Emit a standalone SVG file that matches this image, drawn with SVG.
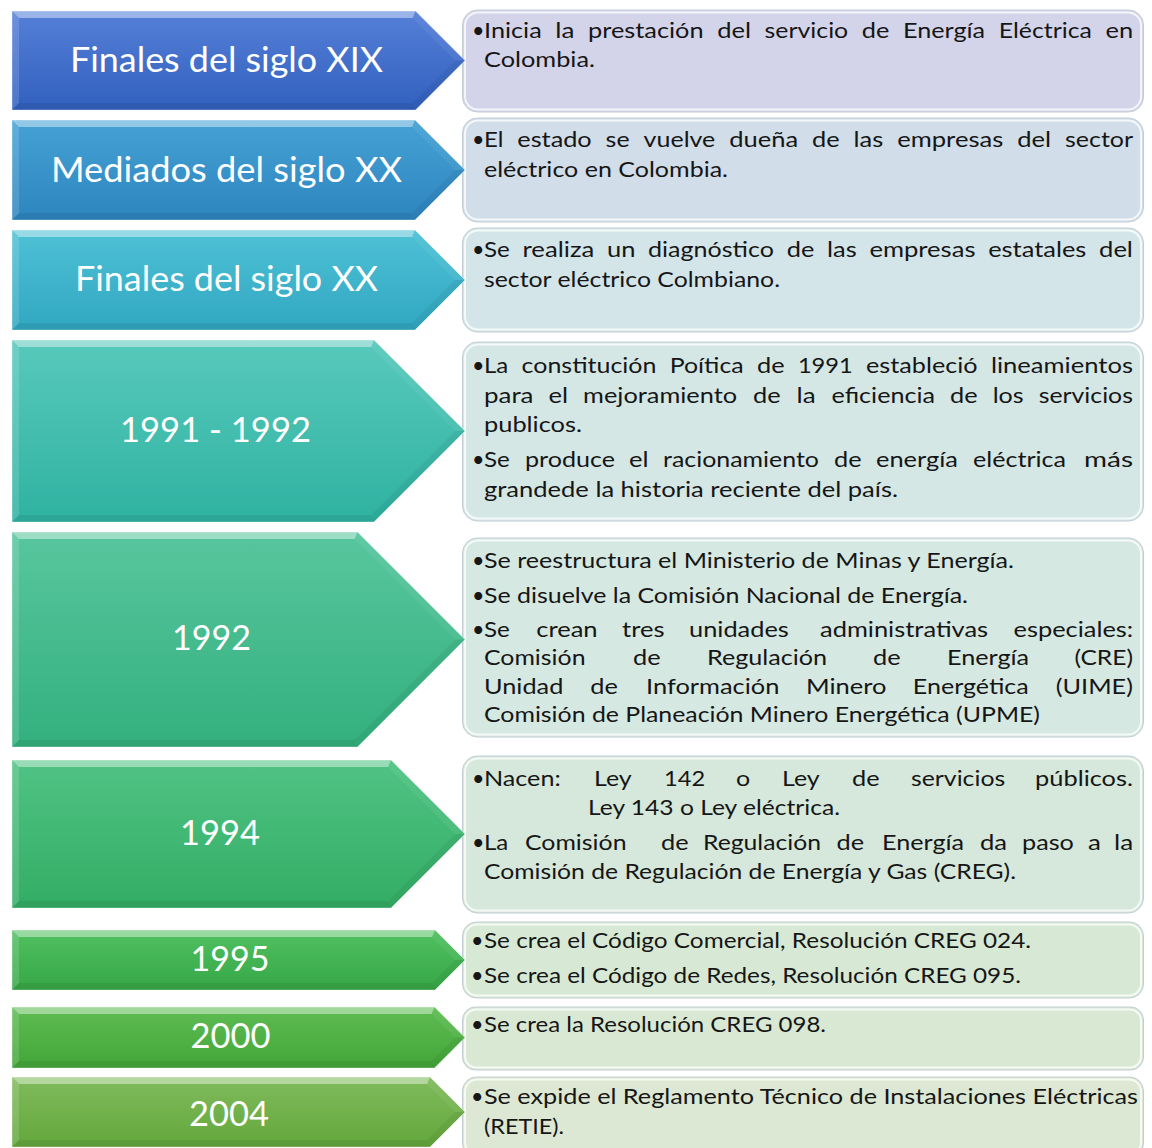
<svg xmlns="http://www.w3.org/2000/svg" width="1152" height="1148" viewBox="0 0 1152 1148">
<style>
.t{font-family:Lato,"Open Sans","Liberation Sans",sans-serif;font-size:21.5px;fill:#161616}
.lbl{font-family:Lato,"Open Sans","Liberation Sans",sans-serif;font-size:34px;fill:#ffffff;text-anchor:middle}
.bt{fill:#ffffff;fill-opacity:.42}
.bl{fill:#ffffff;fill-opacity:.14}
.bb{fill:#000000;fill-opacity:.07}
.bu{fill:#ffffff;fill-opacity:.06}
.bd{fill:#000000;fill-opacity:.05}
.ao{fill:none;stroke:#ffffff;stroke-opacity:.35;stroke-width:1}
.bo{stroke:#c3ccd3;stroke-width:1}
.bi{fill:none;stroke:#ffffff;stroke-opacity:.75;stroke-width:2}
</style>
<defs>
<linearGradient id="g1" x1="0" y1="0" x2="0" y2="1"><stop offset="0" stop-color="#5580d8"/><stop offset="1" stop-color="#3260be"/></linearGradient>
<linearGradient id="g2" x1="0" y1="0" x2="0" y2="1"><stop offset="0" stop-color="#45a2d5"/><stop offset="1" stop-color="#2e85bf"/></linearGradient>
<linearGradient id="g3" x1="0" y1="0" x2="0" y2="1"><stop offset="0" stop-color="#4ec1d6"/><stop offset="1" stop-color="#31a7c1"/></linearGradient>
<linearGradient id="g4" x1="0" y1="0" x2="0" y2="1"><stop offset="0" stop-color="#58c9bc"/><stop offset="1" stop-color="#2fb2a1"/></linearGradient>
<linearGradient id="g5" x1="0" y1="0" x2="0" y2="1"><stop offset="0" stop-color="#58c69f"/><stop offset="1" stop-color="#33b07d"/></linearGradient>
<linearGradient id="g6" x1="0" y1="0" x2="0" y2="1"><stop offset="0" stop-color="#50c384"/><stop offset="1" stop-color="#33ad65"/></linearGradient>
<linearGradient id="g7" x1="0" y1="0" x2="0" y2="1"><stop offset="0" stop-color="#50c061"/><stop offset="1" stop-color="#36a746"/></linearGradient>
<linearGradient id="g8" x1="0" y1="0" x2="0" y2="1"><stop offset="0" stop-color="#5ebc52"/><stop offset="1" stop-color="#43a639"/></linearGradient>
<linearGradient id="g9" x1="0" y1="0" x2="0" y2="1"><stop offset="0" stop-color="#80bb5c"/><stop offset="1" stop-color="#63a73b"/></linearGradient>
</defs>
<rect width="1152" height="1148" fill="#ffffff"/>

<!-- Boxes -->
<g id="box-1">
<rect x="462.5" y="10" width="681" height="102" rx="15" fill="#d3d4e9" class="bo"/>
<rect x="465" y="12.5" width="676" height="97" rx="13" class="bi"/>
<text class="t" y="38"><tspan x="472">•</tspan><tspan x="484" textLength="57.7" lengthAdjust="spacingAndGlyphs">Inicia</tspan> <tspan x="555.3" textLength="19.1" lengthAdjust="spacingAndGlyphs">la</tspan> <tspan x="588" textLength="115.6" lengthAdjust="spacingAndGlyphs">prestación</tspan> <tspan x="717.2" textLength="33.8" lengthAdjust="spacingAndGlyphs">del</tspan> <tspan x="764.6" textLength="83.6" lengthAdjust="spacingAndGlyphs">servicio</tspan> <tspan x="861.8" textLength="27.6" lengthAdjust="spacingAndGlyphs">de</tspan> <tspan x="903" textLength="82.1" lengthAdjust="spacingAndGlyphs">Energía</tspan> <tspan x="998.7" textLength="93.2" lengthAdjust="spacingAndGlyphs">Eléctrica</tspan> <tspan x="1105.5" textLength="27.6" lengthAdjust="spacingAndGlyphs">en</tspan></text>
<text class="t" x="484" y="67" textLength="111" lengthAdjust="spacingAndGlyphs">Colombia.</text>
</g>

<g id="box-2">
<rect x="462.5" y="118" width="681" height="104" rx="15" fill="#d1dde8" class="bo"/>
<rect x="465" y="120.5" width="676" height="99" rx="13" class="bi"/>
<text class="t" y="147"><tspan x="472">•</tspan><tspan x="484" textLength="19.4" lengthAdjust="spacingAndGlyphs">El</tspan> <tspan x="517.3" textLength="74.4" lengthAdjust="spacingAndGlyphs">estado</tspan> <tspan x="605.6" textLength="24" lengthAdjust="spacingAndGlyphs">se</tspan> <tspan x="643.6" textLength="71.7" lengthAdjust="spacingAndGlyphs">vuelve</tspan> <tspan x="729.2" textLength="68.9" lengthAdjust="spacingAndGlyphs">dueña</tspan> <tspan x="812" textLength="27.6" lengthAdjust="spacingAndGlyphs">de</tspan> <tspan x="853.6" textLength="29.7" lengthAdjust="spacingAndGlyphs">las</tspan> <tspan x="897.2" textLength="106.1" lengthAdjust="spacingAndGlyphs">empresas</tspan> <tspan x="1017.2" textLength="33.8" lengthAdjust="spacingAndGlyphs">del</tspan> <tspan x="1065" textLength="68.1" lengthAdjust="spacingAndGlyphs">sector</tspan></text>
<text class="t" x="484" y="177" textLength="244" lengthAdjust="spacingAndGlyphs">eléctrico en Colombia.</text>
</g>

<g id="box-3">
<rect x="462.5" y="228" width="681" height="104" rx="15" fill="#d3e5e9" class="bo"/>
<rect x="465" y="230.5" width="676" height="99" rx="13" class="bi"/>
<text class="t" y="257"><tspan x="472">•</tspan><tspan x="484" textLength="25.8" lengthAdjust="spacingAndGlyphs">Se</tspan> <tspan x="522.5" textLength="71.8" lengthAdjust="spacingAndGlyphs">realiza</tspan> <tspan x="607" textLength="28.4" lengthAdjust="spacingAndGlyphs">un</tspan> <tspan x="648.1" textLength="125.8" lengthAdjust="spacingAndGlyphs">diagnóstico</tspan> <tspan x="786.7" textLength="27.6" lengthAdjust="spacingAndGlyphs">de</tspan> <tspan x="827" textLength="29.7" lengthAdjust="spacingAndGlyphs">las</tspan> <tspan x="869.4" textLength="106.1" lengthAdjust="spacingAndGlyphs">empresas</tspan> <tspan x="988.2" textLength="98.1" lengthAdjust="spacingAndGlyphs">estatales</tspan> <tspan x="1099.1" textLength="33.8" lengthAdjust="spacingAndGlyphs">del</tspan></text>
<text class="t" x="484" y="287" textLength="296" lengthAdjust="spacingAndGlyphs">sector eléctrico Colmbiano.</text>
</g>

<g id="box-4">
<rect x="462.5" y="342" width="681" height="179" rx="15" fill="#d4e7e5" class="bo"/>
<rect x="465" y="344.5" width="676" height="174" rx="13" class="bi"/>
<text class="t" y="373"><tspan x="472">•</tspan><tspan x="484" textLength="24.3" lengthAdjust="spacingAndGlyphs">La</tspan> <tspan x="521.6" textLength="134.8" lengthAdjust="spacingAndGlyphs">constitución</tspan> <tspan x="669.7" textLength="74" lengthAdjust="spacingAndGlyphs">Poítica</tspan> <tspan x="757" textLength="27.6" lengthAdjust="spacingAndGlyphs">de</tspan> <tspan x="797.9" textLength="54.8" lengthAdjust="spacingAndGlyphs">1991</tspan> <tspan x="866" textLength="111.6" lengthAdjust="spacingAndGlyphs">estableció</tspan> <tspan x="990.9" textLength="142.1" lengthAdjust="spacingAndGlyphs">lineamientos</tspan></text>
<text class="t" y="403"><tspan x="484" textLength="49.5" lengthAdjust="spacingAndGlyphs">para</tspan> <tspan x="548.5" textLength="19.6" lengthAdjust="spacingAndGlyphs">el</tspan> <tspan x="583.1" textLength="154" lengthAdjust="spacingAndGlyphs">mejoramiento</tspan> <tspan x="753" textLength="27.6" lengthAdjust="spacingAndGlyphs">de</tspan> <tspan x="796.5" textLength="19.1" lengthAdjust="spacingAndGlyphs">la</tspan> <tspan x="831.5" textLength="103.6" lengthAdjust="spacingAndGlyphs">eficiencia</tspan> <tspan x="950.1" textLength="27.6" lengthAdjust="spacingAndGlyphs">de</tspan> <tspan x="992.7" textLength="31" lengthAdjust="spacingAndGlyphs">los</tspan> <tspan x="1038.7" textLength="94.2" lengthAdjust="spacingAndGlyphs">servicios</tspan></text>
<text class="t" x="484" y="432" textLength="98" lengthAdjust="spacingAndGlyphs">publicos.</text>
<text class="t" y="467"><tspan x="472">•</tspan><tspan x="484" textLength="25.8" lengthAdjust="spacingAndGlyphs">Se</tspan> <tspan x="525" textLength="90" lengthAdjust="spacingAndGlyphs">produce</tspan> <tspan x="629" textLength="19.6" lengthAdjust="spacingAndGlyphs">el</tspan> <tspan x="663" textLength="156" lengthAdjust="spacingAndGlyphs">racionamiento</tspan> <tspan x="834" textLength="27.6" lengthAdjust="spacingAndGlyphs">de</tspan> <tspan x="876" textLength="82" lengthAdjust="spacingAndGlyphs">energía</tspan> <tspan x="973" textLength="93" lengthAdjust="spacingAndGlyphs">eléctrica</tspan> <tspan x="1084" textLength="49" lengthAdjust="spacingAndGlyphs">más</tspan></text>
<text class="t" x="484" y="497" textLength="414" lengthAdjust="spacingAndGlyphs">grandede la historia reciente del país.</text>
</g>

<g id="box-5">
<rect x="462.5" y="538" width="681" height="199" rx="15" fill="#d5e8e1" class="bo"/>
<rect x="465" y="540.5" width="676" height="194" rx="13" class="bi"/>
<text class="t" y="568"><tspan x="472">•</tspan><tspan x="484" textLength="530" lengthAdjust="spacingAndGlyphs">Se reestructura el Ministerio de Minas y Energía.</tspan></text>
<text class="t" y="603"><tspan x="472">•</tspan><tspan x="484" textLength="484" lengthAdjust="spacingAndGlyphs">Se disuelve la Comisión Nacional de Energía.</tspan></text>
<text class="t" y="637"><tspan x="472">•</tspan><tspan x="484" textLength="25.8" lengthAdjust="spacingAndGlyphs">Se</tspan> <tspan x="536.2" textLength="61.4" lengthAdjust="spacingAndGlyphs">crean</tspan> <tspan x="622" textLength="42.5" lengthAdjust="spacingAndGlyphs">tres</tspan> <tspan x="689" textLength="99.8" lengthAdjust="spacingAndGlyphs">unidades</tspan> <tspan x="820" textLength="168.1" lengthAdjust="spacingAndGlyphs">administrativas</tspan> <tspan x="1013.6" textLength="119.6" lengthAdjust="spacingAndGlyphs">especiales:</tspan></text>
<text class="t" y="665"><tspan x="484" textLength="101.5" lengthAdjust="spacingAndGlyphs">Comisión</tspan> <tspan x="633" textLength="27.6" lengthAdjust="spacingAndGlyphs">de</tspan> <tspan x="707" textLength="120.1" lengthAdjust="spacingAndGlyphs">Regulación</tspan> <tspan x="873" textLength="27.6" lengthAdjust="spacingAndGlyphs">de</tspan> <tspan x="947" textLength="82.1" lengthAdjust="spacingAndGlyphs">Energía</tspan> <tspan x="1074.4" textLength="58.6" lengthAdjust="spacingAndGlyphs">(CRE)</tspan></text>
<text class="t" y="694"><tspan x="484" textLength="79.3" lengthAdjust="spacingAndGlyphs">Unidad</tspan> <tspan x="590.3" textLength="27.6" lengthAdjust="spacingAndGlyphs">de</tspan> <tspan x="646" textLength="133.4" lengthAdjust="spacingAndGlyphs">Información</tspan> <tspan x="806" textLength="80.5" lengthAdjust="spacingAndGlyphs">Minero</tspan> <tspan x="912.8" textLength="116" lengthAdjust="spacingAndGlyphs">Energética</tspan> <tspan x="1055.8" textLength="77.1" lengthAdjust="spacingAndGlyphs">(UIME)</tspan></text>
<text class="t" x="484" y="722" textLength="556" lengthAdjust="spacingAndGlyphs">Comisión de Planeación Minero Energética (UPME)</text>
</g>

<g id="box-6">
<rect x="462.5" y="756" width="681" height="157" rx="15" fill="#d5e8db" class="bo"/>
<rect x="465" y="758.5" width="676" height="152" rx="13" class="bi"/>
<text class="t" y="786"><tspan x="472">•</tspan><tspan x="484" textLength="76.7" lengthAdjust="spacingAndGlyphs">Nacen:</tspan> <tspan x="594" textLength="37" lengthAdjust="spacingAndGlyphs">Ley</tspan> <tspan x="664" textLength="41.1" lengthAdjust="spacingAndGlyphs">142</tspan> <tspan x="736" textLength="14.2" lengthAdjust="spacingAndGlyphs">o</tspan> <tspan x="782" textLength="37" lengthAdjust="spacingAndGlyphs">Ley</tspan> <tspan x="852" textLength="27.6" lengthAdjust="spacingAndGlyphs">de</tspan> <tspan x="911" textLength="94.2" lengthAdjust="spacingAndGlyphs">servicios</tspan> <tspan x="1035.1" textLength="97.9" lengthAdjust="spacingAndGlyphs">públicos.</tspan></text>
<text class="t" x="588" y="815" textLength="252" lengthAdjust="spacingAndGlyphs">Ley 143 o Ley eléctrica.</text>
<text class="t" y="850"><tspan x="472">•</tspan><tspan x="484" textLength="24.3" lengthAdjust="spacingAndGlyphs">La</tspan> <tspan x="525" textLength="101.5" lengthAdjust="spacingAndGlyphs">Comisión</tspan>  <tspan x="661" textLength="27.6" lengthAdjust="spacingAndGlyphs">de</tspan> <tspan x="703" textLength="118" lengthAdjust="spacingAndGlyphs">Regulación</tspan> <tspan x="836.5" textLength="27.6" lengthAdjust="spacingAndGlyphs">de</tspan> <tspan x="882" textLength="82.1" lengthAdjust="spacingAndGlyphs">Energía</tspan> <tspan x="980" textLength="27.1" lengthAdjust="spacingAndGlyphs">da</tspan> <tspan x="1022" textLength="51.9" lengthAdjust="spacingAndGlyphs">paso</tspan> <tspan x="1088" textLength="12.9" lengthAdjust="spacingAndGlyphs">a</tspan> <tspan x="1114" textLength="19.1" lengthAdjust="spacingAndGlyphs">la</tspan></text>
<text class="t" x="484" y="879" textLength="532" lengthAdjust="spacingAndGlyphs">Comisión de Regulación de Energía y Gas (CREG).</text>
</g>

<g id="box-7">
<rect x="462.5" y="922" width="681" height="76" rx="14" fill="#d7e9d5" class="bo"/>
<rect x="465" y="924.5" width="676" height="71" rx="12" class="bi"/>
<text class="t" y="948"><tspan x="471">•</tspan><tspan x="484" textLength="547" lengthAdjust="spacingAndGlyphs">Se crea el Código Comercial, Resolución CREG 024.</tspan></text>
<text class="t" y="983"><tspan x="471">•</tspan><tspan x="484" textLength="537" lengthAdjust="spacingAndGlyphs">Se crea el Código de Redes, Resolución CREG 095.</tspan></text>
</g>

<g id="box-8">
<rect x="462.5" y="1007" width="681" height="63" rx="13" fill="#d9e8d3" class="bo"/>
<rect x="465" y="1009.5" width="676" height="58" rx="11" class="bi"/>
<text class="t" y="1032"><tspan x="471">•</tspan><tspan x="484" textLength="342" lengthAdjust="spacingAndGlyphs">Se crea la Resolución CREG 098.</tspan></text>
</g>

<g id="box-9">
<rect x="462.5" y="1077" width="681" height="80" rx="14" fill="#dce8d3" class="bo"/>
<rect x="465" y="1079.5" width="676" height="75" rx="12" class="bi"/>
<text class="t" y="1104"><tspan x="471">•</tspan><tspan x="484" textLength="654" lengthAdjust="spacingAndGlyphs">Se expide el Reglamento Técnico de Instalaciones Eléctricas</tspan></text>
<text class="t" x="484" y="1134" textLength="80" lengthAdjust="spacingAndGlyphs">(RETIE).</text>
</g>

<!-- Chevron nodes -->
<g id="arrow-1">
<polygon points="12,11 415.5,11 465,60.5 415.5,110 12,110" fill="url(#g1)"/>
<polygon class="bt" points="12,11 415.5,11 412.6,18 19,18"/>
<polygon class="bl" points="12,11 19,18 19,103 12,110"/>
<polygon class="bb" points="12,110 19,103 412.6,103 415.5,110"/>
<polygon class="bu" points="415.5,11 465,60.5 455.1,60.5 412.6,18"/>
<polygon class="bd" points="465,60.5 415.5,110 412.6,103 455.1,60.5"/>
<polygon class="ao" points="12,11 415.5,11 465,60.5 415.5,110 12,110"/>
<text class="lbl" x="226.5" y="72" textLength="313" lengthAdjust="spacingAndGlyphs">Finales del siglo XIX</text>
</g>

<g id="arrow-2">
<polygon points="12,120 415,120 465,170 415,220 12,220" fill="url(#g2)"/>
<polygon class="bt" points="12,120 415,120 412.1,127 19,127"/>
<polygon class="bl" points="12,120 19,127 19,213 12,220"/>
<polygon class="bb" points="12,220 19,213 412.1,213 415,220"/>
<polygon class="bu" points="415,120 465,170 455.1,170 412.1,127"/>
<polygon class="bd" points="465,170 415,220 412.1,213 455.1,170"/>
<polygon class="ao" points="12,120 415,120 465,170 415,220 12,220"/>
<text class="lbl" x="226.5" y="182" textLength="351" lengthAdjust="spacingAndGlyphs">Mediados del siglo XX</text>
</g>

<g id="arrow-3">
<polygon points="12,230 415,230 465,280 415,330 12,330" fill="url(#g3)"/>
<polygon class="bt" points="12,230 415,230 412.1,237 19,237"/>
<polygon class="bl" points="12,230 19,237 19,323 12,330"/>
<polygon class="bb" points="12,330 19,323 412.1,323 415,330"/>
<polygon class="bu" points="415,230 465,280 455.1,280 412.1,237"/>
<polygon class="bd" points="465,280 415,330 412.1,323 455.1,280"/>
<polygon class="ao" points="12,230 415,230 465,280 415,330 12,330"/>
<text class="lbl" x="226.5" y="291" textLength="303" lengthAdjust="spacingAndGlyphs">Finales del siglo XX</text>
</g>

<g id="arrow-4">
<polygon points="12,340 374,340 465,431 374,522 12,522" fill="url(#g4)"/>
<polygon class="bt" points="12,340 374,340 371.1,347 19,347"/>
<polygon class="bl" points="12,340 19,347 19,515 12,522"/>
<polygon class="bb" points="12,522 19,515 371.1,515 374,522"/>
<polygon class="bu" points="374,340 465,431 455.1,431 371.1,347"/>
<polygon class="bd" points="465,431 374,522 371.1,515 455.1,431"/>
<polygon class="ao" points="12,340 374,340 465,431 374,522 12,522"/>
<text class="lbl" x="215.5" y="442" textLength="191" lengthAdjust="spacingAndGlyphs">1991 - 1992</text>
</g>

<g id="arrow-5">
<polygon points="12,532 357.5,532 465,639.5 357.5,747 12,747" fill="url(#g5)"/>
<polygon class="bt" points="12,532 357.5,532 354.6,539 19,539"/>
<polygon class="bl" points="12,532 19,539 19,740 12,747"/>
<polygon class="bb" points="12,747 19,740 354.6,740 357.5,747"/>
<polygon class="bu" points="357.5,532 465,639.5 455.1,639.5 354.6,539"/>
<polygon class="bd" points="465,639.5 357.5,747 354.6,740 455.1,639.5"/>
<polygon class="ao" points="12,532 357.5,532 465,639.5 357.5,747 12,747"/>
<text class="lbl" x="211.5" y="650" textLength="79" lengthAdjust="spacingAndGlyphs">1992</text>
</g>

<g id="arrow-6">
<polygon points="12,760 391,760 465,834 391,908 12,908" fill="url(#g6)"/>
<polygon class="bt" points="12,760 391,760 388.1,767 19,767"/>
<polygon class="bl" points="12,760 19,767 19,901 12,908"/>
<polygon class="bb" points="12,908 19,901 388.1,901 391,908"/>
<polygon class="bu" points="391,760 465,834 455.1,834 388.1,767"/>
<polygon class="bd" points="465,834 391,908 388.1,901 455.1,834"/>
<polygon class="ao" points="12,760 391,760 465,834 391,908 12,908"/>
<text class="lbl" x="220" y="845" textLength="80" lengthAdjust="spacingAndGlyphs">1994</text>
</g>

<g id="arrow-7">
<polygon points="12,930 435,930 465,960 435,990 12,990" fill="url(#g7)"/>
<polygon class="bt" points="12,930 435,930 432.1,937 19,937"/>
<polygon class="bl" points="12,930 19,937 19,983 12,990"/>
<polygon class="bb" points="12,990 19,983 432.1,983 435,990"/>
<polygon class="bu" points="435,930 465,960 455.1,960 432.1,937"/>
<polygon class="bd" points="465,960 435,990 432.1,983 455.1,960"/>
<polygon class="ao" points="12,930 435,930 465,960 435,990 12,990"/>
<text class="lbl" x="230" y="971" textLength="79" lengthAdjust="spacingAndGlyphs">1995</text>
</g>

<g id="arrow-8">
<polygon points="12,1007 434.5,1007 465,1037.5 434.5,1068 12,1068" fill="url(#g8)"/>
<polygon class="bt" points="12,1007 434.5,1007 431.6,1014 19,1014"/>
<polygon class="bl" points="12,1007 19,1014 19,1061 12,1068"/>
<polygon class="bb" points="12,1068 19,1061 431.6,1061 434.5,1068"/>
<polygon class="bu" points="434.5,1007 465,1037.5 455.1,1037.5 431.6,1014"/>
<polygon class="bd" points="465,1037.5 434.5,1068 431.6,1061 455.1,1037.5"/>
<polygon class="ao" points="12,1007 434.5,1007 465,1037.5 434.5,1068 12,1068"/>
<text class="lbl" x="230.5" y="1048" textLength="80" lengthAdjust="spacingAndGlyphs">2000</text>
</g>

<g id="arrow-9">
<polygon points="12,1077 430,1077 465,1112 430,1147 12,1147" fill="url(#g9)"/>
<polygon class="bt" points="12,1077 430,1077 427.1,1084 19,1084"/>
<polygon class="bl" points="12,1077 19,1084 19,1140 12,1147"/>
<polygon class="bb" points="12,1147 19,1140 427.1,1140 430,1147"/>
<polygon class="bu" points="430,1077 465,1112 455.1,1112 427.1,1084"/>
<polygon class="bd" points="465,1112 430,1147 427.1,1140 455.1,1112"/>
<polygon class="ao" points="12,1077 430,1077 465,1112 430,1147 12,1147"/>
<text class="lbl" x="229" y="1126" textLength="80" lengthAdjust="spacingAndGlyphs">2004</text>
</g>
</svg>
